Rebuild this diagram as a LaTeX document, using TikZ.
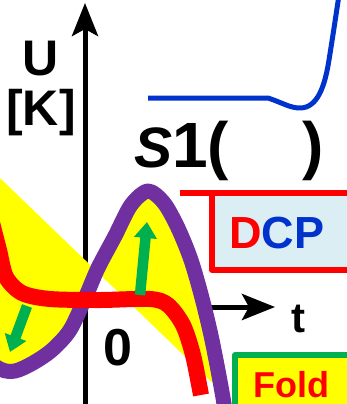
\documentclass[tikz,border=0pt]{standalone}
\usepackage{fontspec}
\setmainfont{Liberation Sans}
\usetikzlibrary{arrows.meta}
\definecolor{foldPurple}{HTML}{7030A0}
\definecolor{foldYellow}{HTML}{FFFF00}
\definecolor{dcpRed}{HTML}{FF0000}
\definecolor{dcpBlue}{HTML}{0033CC}
\definecolor{dcpFill}{HTML}{DAEEF3}
\definecolor{kickGreen}{HTML}{00B050}
\tikzset{
  biglab/.style={font=\fontsize{#1}{#1}\selectfont\bfseries, inner sep=0pt, anchor=base},
  axisline/.style={black, line width=5pt, -{Stealth[length=33pt,width=26pt,inset=7pt]}},
  kick/.style={kickGreen, line width=10.5pt, -{Triangle[length=16pt,width=22pt]}},
}
\newcommand{\curveW}{15pt}
\newcommand{\foldpts}{(-25,352) (0,369) (15,371) (33,363) (52,350) (70,330) (86,296) (98,268) (115,236) (131,205) (148,191) (164,203) (178,228) (191,260) (202,298) (212,340) (222,392)}

\begin{document}
\begin{tikzpicture}[x=1pt, y=-1pt, line join=round]
  \useasboundingbox (0,0) rectangle (347,404);
  \clip (0,0) rectangle (347,404);

  % --- axes (they run underneath the fold region) ---
  \coordinate (ubot) at (85,420);
  \coordinate (utop) at (85,3);
  \coordinate (tstart) at (140,307);
  \coordinate (tend) at (275,307);
  \draw[axisline] (ubot) -- (utop);
  \draw[axisline] (tstart) -- (tend);

  % --- fold region: between the purple curve and its chord ---
  \fill[foldYellow] (-25,154) -- plot[smooth] coordinates {\foldpts} -- cycle;
  \draw[foldPurple, line width=\curveW]
    plot[smooth] coordinates {\foldpts (228,430)};

  % red trajectory
  \draw[dcpRed, line width=16pt]
    plot[smooth] coordinates {(-10,215) (-1,250) (6,277) (22,293) (50,299) (100,300)
      (150,299) (168,305) (183,325) (193,355) (201,395)};

  % kicks
  \draw[kick] (140,295) -- (147,222);
  \draw[kick] (27,306) -- (10,352);

  % --- blue response curve ---
  \draw[dcpBlue, line width=5pt]
    (148,98) -- (268,98) .. controls (283,103) and (290,108) .. (300,108)
    .. controls (318,108) and (325,85) .. (329,60)
    .. controls (333,35) and (336,15) .. (339,-5);

  % --- boxes ---
  \draw[dcpRed, line width=6.5pt] (180,193) -- (220,193);
  \filldraw[fill=dcpFill, draw=dcpRed, line width=6pt] (212,193) rectangle (360,270);
  \filldraw[fill=foldYellow, draw=kickGreen, line width=5.5pt] (235,355) rectangle (360,420);

  % --- labels ---
  \node[biglab=50] (ulab) at (41,75) {U};
  \node[biglab=50] (klab) at (41,125) {[K]};
  \node[biglab=64, anchor=base west] (slab) at (134,167)
    {{\fontsize{57}{57}\selectfont\textit{S}}1(\hspace{73pt})};
  \node[biglab=45, anchor=base west] (dcplab) at (229,248)
    {{\color{dcpRed}D}{\color{dcpBlue}CP}};
  \node[biglab=36, anchor=base west, dcpRed] (foldlab) at (253,397) {Fold};
  \node[biglab=42] (tlab) at (298,332) {t};
  \node[biglab=52] (zerolab) at (117.5,365) {0};
\end{tikzpicture}
\end{document}
